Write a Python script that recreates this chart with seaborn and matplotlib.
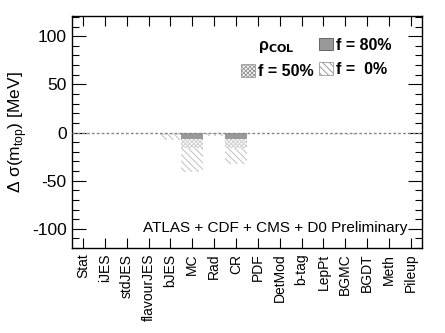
import matplotlib
matplotlib.use("Agg")
import matplotlib.pyplot as plt
import seaborn as sns
from matplotlib.patches import Patch
from matplotlib.ticker import MultipleLocator

# Datos
categorias = ["Stat", "iJES", "stdJES", "flavourJES", "bJES", "MC", "Rad", "CR",
              "PDF", "DetMod", "b-tag", "LepPt", "BGMC", "BGDT", "Meth", "Pileup"]
f0 = [0, 0, 0, 0, -7.5, -41, -4, -33, -0.8, 0, 0, 0, -2.5, 0, 0, 0]
f50 = [0, 0, 0, 0, -3, -16.5, -1.5, -16, -0.4, 0, 0, 0, -1, 0, 0, 0]
f80 = [0, 0, 0, 0, -1, -6.5, -0.6, -6.5, -0.2, 0, 0, 0, -0.4, 0, 0, 0]

sns.set_style("white")
plt.rcParams['font.family'] = ['Liberation Sans', 'DejaVu Sans']
plt.rcParams['hatch.linewidth'] = 0.7
plt.rcParams['axes.unicode_minus'] = False
for k in ['text.color', 'axes.labelcolor', 'xtick.color', 'ytick.color']:
    plt.rcParams[k] = 'black'

fig = plt.figure(figsize=(4.45, 3.33), dpi=100)
ax = fig.add_axes([0.162, 0.255, 0.786, 0.697])

# Barras superpuestas (f = 0%, 50%, 80%)
estilo0 = dict(color="white", edgecolor="#c0c0c0", hatch="\\\\\\\\\\", linewidth=0)
estilo50 = dict(color="white", edgecolor="#cfcfcf", hatch="xxxxxxxx", linewidth=0)
estilo80 = dict(color="#999999", edgecolor="#999999", linewidth=0)

sns.barplot(x=categorias, y=f0, width=1.0, errorbar=None, ax=ax, **estilo0)
sns.barplot(x=categorias, y=f50, width=1.0, errorbar=None, ax=ax, **estilo50)
sns.barplot(x=categorias, y=f80, width=1.0, errorbar=None, ax=ax, **estilo80)

ax.axhline(0, color="#888888", lw=1, ls=(0, (2, 1.5)), zorder=5)

ax.set_xlim(-0.5, len(categorias) - 0.5)
ax.set_ylim(-120, 121)
ax.yaxis.set_major_locator(MultipleLocator(50))
ax.yaxis.set_minor_locator(MultipleLocator(10))
ax.tick_params(axis="y", which="major", direction="in", length=10, width=0.8,
               left=True, right=True, labelsize=12.5, pad=4)
ax.tick_params(axis="y", which="minor", direction="in", length=5, width=0.8,
               left=True, right=True)
ax.tick_params(axis="x", which="major", direction="in", length=7, width=0.8,
               bottom=True, top=True, labelsize=10, pad=4)
ax.set_xticks(range(len(categorias)))
ax.set_xticklabels(categorias, rotation=90)
for s in ax.spines.values():
    s.set_color("black")
    s.set_linewidth(1)

ax.set_xlabel("")
ax.set_ylabel("Δ σ(m$_{\\mathregular{top}}$) [MeV]", fontsize=12.5, labelpad=2)

ax.text(0.958, 0.055, "ATLAS + CDF + CMS + D0 Preliminary", transform=ax.transAxes,
        ha="right", va="bottom", fontsize=11)

# Leyenda
handles = [Patch(visible=False),
           Patch(facecolor="white", edgecolor="#9a9a9a", hatch="xxxxxxxx", lw=0.6),
           Patch(facecolor="#999999", edgecolor="#555555", lw=0.6),
           Patch(facecolor="white", edgecolor="#9a9a9a", hatch="\\\\\\\\\\", lw=0.6)]
labels = ["ρ$_{\\mathbf{COL}}$", "f = 50%", "f = 80%", "f =  0%"]
ax.legend(handles, labels, ncol=2, frameon=False, loc="upper right",
          bbox_to_anchor=(0.945, 0.955), prop={"size": 11.5, "weight": "bold"},
          handlelength=0.85, handleheight=0.85, handletextpad=0.2,
          columnspacing=0.35, labelspacing=0.6, borderpad=0.2)

plt.savefig("out.png", dpi=100)
